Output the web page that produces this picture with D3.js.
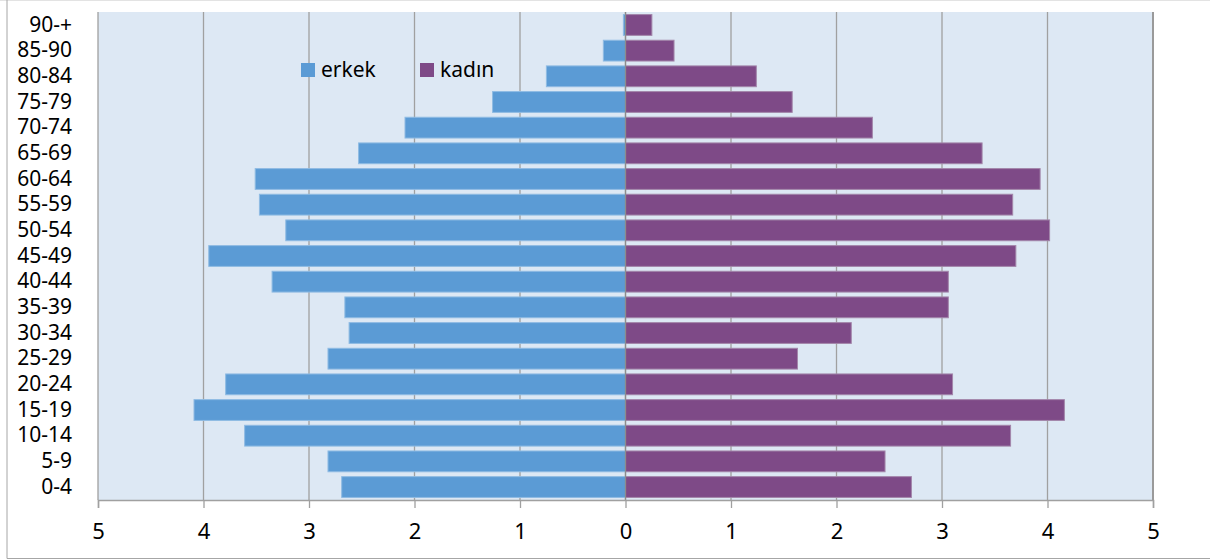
<!DOCTYPE html>
<html>
<head>
<meta charset="utf-8">
<script src="https://cdn.jsdelivr.net/npm/d3@7"></script>
<style>
  body { margin: 0; background: #fff; }
  svg { display: block; font-family: "Noto Sans", "Open Sans", sans-serif; }
</style>
</head>
<body>
<div id="chart"></div>
<script>
// age groups, top to bottom
const ages = ["90-+", "85-90", "80-84", "75-79", "70-74", "65-69", "60-64", "55-59", "50-54",
  "45-49", "40-44", "35-39", "30-34", "25-29", "20-24", "15-19", "10-14", "5-9", "0-4"];
// erkek (male) share, %
const erkek = [0.02, 0.21, 0.75, 1.26, 2.09, 2.53, 3.51, 3.47, 3.22,
  3.95, 3.35, 2.66, 2.62, 2.82, 3.79, 4.09, 3.61, 2.82, 2.69];
// kadın (female) share, %
const kadin = [0.25, 0.46, 1.24, 1.58, 2.34, 3.38, 3.93, 3.67, 4.02,
  3.70, 3.06, 3.06, 2.14, 1.63, 3.10, 4.16, 3.65, 2.46, 2.71];
const xTicks = [-5, -4, -3, -2, -1, 0, 1, 2, 3, 4, 5];
const seriesNames = ["erkek", "kadın"];
const colors = ["#5b9bd5", "#7e4a87"];
const strokes = ["#8fbbe3", "#a386aa"];

const W = 1210, H = 560;
const margin = {top: 12, right: 57, bottom: 60, left: 98};
const w = W - margin.left - margin.right;
const h = H - margin.top - margin.bottom;

const svg = d3.select("#chart").append("svg")
    .attr("width", W)
    .attr("height", H);

// outer frame
svg.append("line").attr("x1", 0).attr("x2", W).attr("y1", 0.5).attr("y2", 0.5)
    .attr("stroke", "#e3e3e3");
svg.append("line").attr("x1", 7).attr("x2", 7).attr("y1", 0).attr("y2", 558.5)
    .attr("stroke", "#a6a6a6");
svg.append("line").attr("x1", 7).attr("x2", W).attr("y1", 558.5).attr("y2", 558.5)
    .attr("stroke", "#a6a6a6");

const g = svg.append("g")
    .attr("transform", `translate(${margin.left},${margin.top})`);

const x = d3.scaleLinear().domain([-5, 5]).range([0, w]);
const y = d3.scaleBand().domain(ages).range([0, h]).paddingInner(0.19).paddingOuter(0.1);

g.append("rect")
    .attr("width", w).attr("height", h)
    .attr("fill", "#dde8f4");

// gridlines
g.selectAll(".grid")
    .data(xTicks)
    .enter()
    .append("line")
        .attr("class", "grid")
        .attr("x1", d => x(d)).attr("x2", d => x(d))
        .attr("y1", 0).attr("y2", h)
        .attr("stroke", d => d == 5 ? "#9a9a9a" : "#a0a0a0")
        .attr("stroke-width", d => d == 5 ? 2 : 1.3);

// bars
g.selectAll(".bar-m")
    .data(ages)
    .enter()
    .append("rect")
        .attr("x", (d, i) => x(-erkek[i]))
        .attr("y", d => y(d))
        .attr("width", (d, i) => x(0) - x(-erkek[i]))
        .attr("height", y.bandwidth())
        .attr("fill", colors[0])
        .attr("stroke", strokes[0])
        .attr("stroke-width", 1);

g.selectAll(".bar-f")
    .data(ages)
    .enter()
    .append("rect")
        .attr("x", x(0))
        .attr("y", d => y(d))
        .attr("width", (d, i) => x(kadin[i]) - x(0))
        .attr("height", y.bandwidth())
        .attr("fill", colors[1])
        .attr("stroke", strokes[1])
        .attr("stroke-width", 1);

// center axis
g.append("line")
    .attr("x1", x(0)).attr("x2", x(0))
    .attr("y1", 0).attr("y2", h)
    .attr("stroke", "#8c8c8c").attr("stroke-width", 1.3);

// bottom axis
const xAxis = g.append("g")
    .attr("transform", `translate(0,${h})`)
    .call(d3.axisBottom(x).tickValues(xTicks).tickFormat(d => Math.abs(d)).tickSize(8).tickPadding(15));
xAxis.select(".domain").attr("stroke", "#a0a0a0").attr("stroke-width", 1.5);
xAxis.selectAll(".tick line").attr("stroke", "#a0a0a0").attr("stroke-width", 1.3);
xAxis.selectAll("text")
    .style("font-size", "22px")
    .style("fill", "#000")
    .style("font-family", "'Noto Sans', sans-serif");

// left axis labels
const yAxis = g.append("g")
    .call(d3.axisLeft(y).tickSize(0).tickPadding(26));
yAxis.select(".domain").remove();
yAxis.selectAll("text")
    .style("font-size", "21px")
    .style("fill", "#000")
    .style("font-family", "'Noto Sans', sans-serif");

// legend
const legend = svg.append("g")
    .selectAll("g")
    .data(seriesNames)
    .enter()
    .append("g")
        .attr("transform", (d, i) => `translate(${301 + i * 119},63)`);
legend.append("rect")
    .attr("width", 14).attr("height", 14)
    .attr("fill", (d, i) => colors[i]);
legend.append("text")
    .attr("x", 20).attr("y", 14)
    .style("font-size", "21px")
    .text(d => d);
</script>
</body>
</html>
